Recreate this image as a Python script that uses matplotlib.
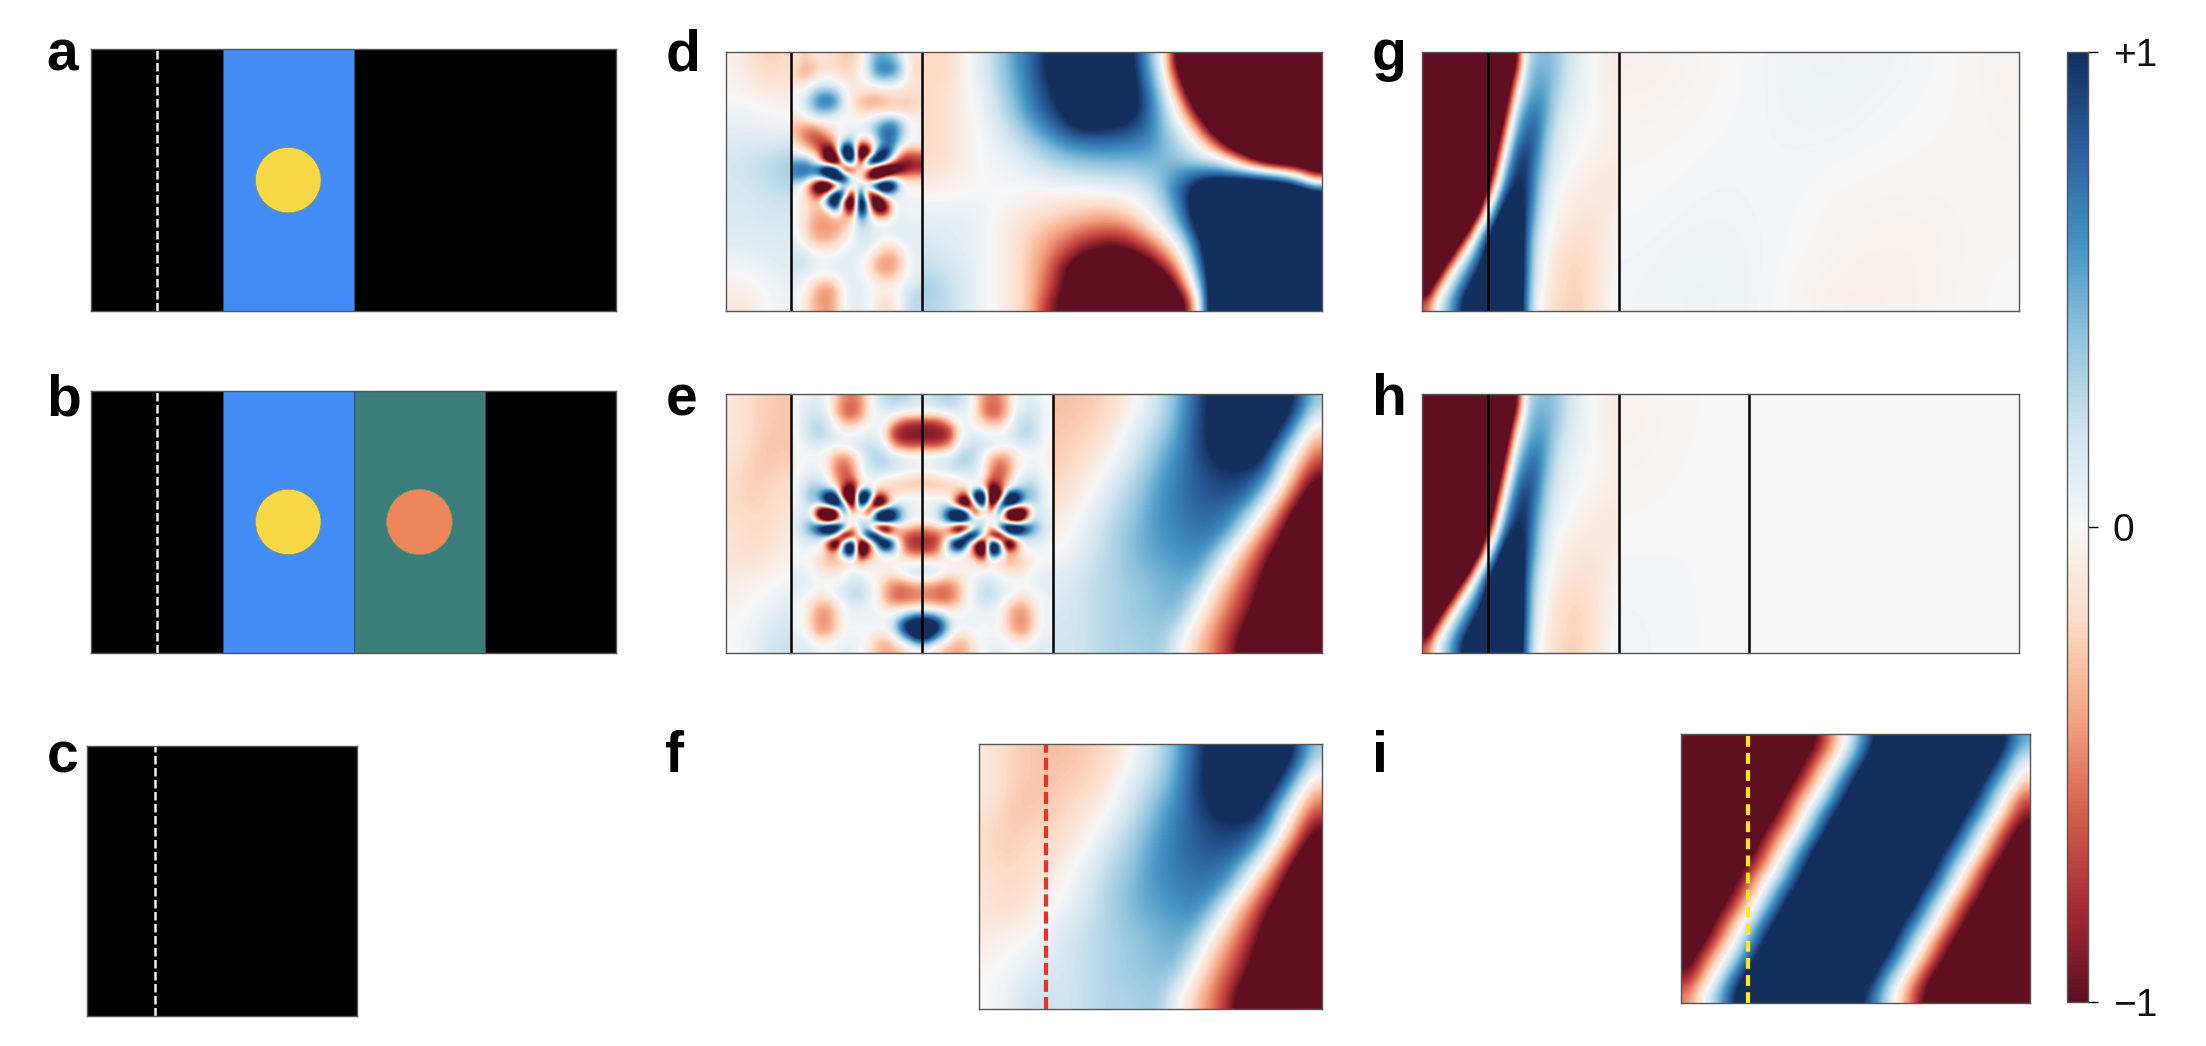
import numpy as np
import matplotlib
matplotlib.use('Agg')
import matplotlib.pyplot as plt
from matplotlib.cm import ScalarMappable
from matplotlib.colors import LinearSegmentedColormap, Normalize
from matplotlib.patches import Circle, Rectangle

plt.rcParams['font.family'] = ['Liberation Sans', 'DejaVu Sans']

# field values, +1 is blue and -1 is red
d_left = [
    [-.05, -.15, -.25, -.2],
    [0, 0, -.03, -.05],
    [.1, .1, .08, .05],
    [.2, .25, .3, .4],
    [.15, .15, .2, .2],
    [.15, .15, .15, .15],
    [.05, .08, .1, .12],
    [-.1, -.1, 0, .05],
]

d_slab = [
    [-.1, -.25, -.2, -.1, -.15, -.2, -.25, -.25, -.1, .2, .5, .5, .4, .1, -.15, -.15],
    [-.15, -.3, -.3, -.2, -.2, -.2, -.25, -.2, -.1, .25, .6, .65, .6, .3, -.1, -.2],
    [-.2, -.35, -.3, -.15, -.1, -.15, -.2, -.2, -.05, .2, .6, .65, .6, .3, -.1, -.2],
    [-.15, -.25, -.1, 0, .05, 0, -.1, -.15, -.05, .05, .25, .3, .25, .1, -.1, -.15],
    [0, -.05, .1, .3, .3, .2, 0, -.1, -.1, -.1, -.1, -.05, -.05, -.1, -.15, -.15],
    [0, .1, .35, .6, .65, .5, .1, -.1, -.25, -.3, -.3, -.25, -.2, -.2, -.2, -.2],
    [0, .1, .4, .65, .7, .55, .15, -.1, -.3, -.35, -.35, -.3, -.25, -.25, -.25, -.2],
    [-.05, .05, .2, .35, .35, .2, .05, -.05, -.15, -.15, -.1, -.1, -.1, -.15, -.15, -.1],
    [-.2, -.2, -.1, 0, 0, 0, 0, 0, 0, .05, .25, .45, .5, .25, 0, -.05],
    [-.3, -.45, -.5, -.4, -.2, -.05, .05, .05, .1, .2, .5, .75, .75, .4, .05, -.05],
    [-.25, -.5, -.65, -.65, -.45, -.2, .1, .3, 0, -.1, .4, .8, .75, .35, .05, -.05],
    [-.1, -.3, -.5, -.8, -.9, -.4, .9, .7, -1, -.5, .2, .7, .7, .1, -.1, -.1],
    [.1, 0, -.2, -.45, -1.6, -1, 1.9, 1.9, -2.2, -1.5, .9, 1.5, .4, -.4, -.6, -.5],
    [.5, .55, .35, -.2, -1.3, -2.2, .3, 1.5, -1.6, 1.6, 2, .7, -.4, -.9, -.9, -.8],
    [.7, .8, .7, 1, 2.1, 1.4, -1.4, -1, .1, -.4, -2, -2.3, -1.8, -1.1, -.9, -.8],
    [.6, .6, .4, .3, 1, 2.2, 1.5, 0, 0, -1.2, -1.8, -.5, -.1, -.3, -.3, -.3],
    [.2, 0, -.7, -2, -2.3, -1.2, .3, .1, .1, .5, 1.8, 2.2, 1.4, .1, -.05, -.05],
    [.05, -.1, -.5, -1, -.2, 1.6, 1.1, -1.6, 1.6, -1.4, -.6, .6, .3, .05, 0, 0],
    [0, -.1, -.25, -.35, 1, 2, -.9, -2.2, 2.2, -.2, -2.2, -.9, .05, .1, .05, .05],
    [0, -.1, -.25, -.35, -.2, .7, -.5, -1.4, 1.8, .2, -1.3, -1.2, -.05, .05, .05, .05],
    [0, -.1, -.3, -.4, -.4, -.3, -.3, -.3, .7, .2, -.2, -.2, 0, .1, .05, .05],
    [0, -.1, -.35, -.45, -.45, -.4, -.3, -.1, .3, .2, .05, .05, .1, .1, .1, .1],
    [.05, -.1, -.3, -.4, -.4, -.35, -.2, 0, .2, .15, .1, .05, .1, .1, .1, .1],
    [.1, 0, -.2, -.3, -.3, -.2, -.05, .05, .15, .15, .05, -.05, -.05, .05, .1, .1],
    [.15, .1, 0, -.1, -.1, -.05, .05, .1, .1, .05, -.1, -.25, -.25, -.1, .05, .1],
    [.2, .2, .1, .05, .05, .05, .1, .1, .05, -.05, -.3, -.4, -.4, -.2, .05, .1],
    [.2, .2, .1, .05, .05, .1, .1, .1, .05, -.1, -.35, -.45, -.4, -.2, .05, .1],
    [.15, .1, .05, 0, 0, .05, .1, .1, .05, -.05, -.25, -.35, -.3, -.1, .05, .1],
    [.1, .05, -.1, -.25, -.3, -.15, .05, .1, .1, 0, -.1, -.1, -.1, 0, .1, .15],
    [.05, 0, -.2, -.4, -.45, -.3, 0, .1, .1, .05, -.05, -.05, -.05, .05, .2, .25],
    [.05, -.05, -.25, -.45, -.45, -.3, 0, .1, .1, .05, -.1, -.15, -.1, .05, .25, .3],
    [.05, -.05, -.25, -.4, -.45, -.3, 0, .1, .1, .05, -.1, -.2, -.1, .05, .25, .25],
]

d_right = [
    [-.2, -.2, -.05, .1, .3, .55, .75, 1, 1.4, 1.5, 1.5, 1.4, 1.1, .55, 0, -1.5, -2, -2, -2, -2, -2, -2, -2, -2],
    [-.2, -.2, -.05, .1, .3, .5, .75, 1, 1.3, 1.5, 1.5, 1.4, 1.15, .65, .1, -1.1, -2, -2, -2, -2, -2, -2, -2, -2],
    [-.2, -.15, -.05, .05, .25, .45, .7, .9, 1.2, 1.5, 1.5, 1.4, 1.2, .75, .25, -.6, -1.8, -2, -2, -2, -2, -2, -2, -2],
    [-.2, -.15, -.05, .05, .2, .4, .65, .85, 1.05, 1.35, 1.45, 1.35, 1.15, .8, .35, -.2, -1.2, -2, -2, -2, -2, -2, -2, -2],
    [-.2, -.15, -.05, 0, .15, .3, .5, .7, .9, 1.1, 1.1, 1.05, .95, .75, .4, .05, -.5, -1.6, -2, -2, -2, -2, -2, -2],
    [-.2, -.15, -.05, 0, .1, .2, .35, .5, .65, .75, .75, .75, .7, .65, .45, .25, -.05, -.6, -1.6, -2, -2, -2, -2, -2],
    [-.2, -.15, -.05, 0, .05, .1, .2, .3, .4, .45, .5, .5, .5, .5, .45, .35, .2, .05, -.25, -1, -1.7, -2, -2, -2],
    [-.15, -.1, -.05, 0, .03, .05, .1, .15, .2, .25, .25, .3, .3, .35, .45, .6, .7, .75, .65, .6, .45, .25, -.2, -1],
    [-.05, -.03, -.02, 0, 0, 0, 0, 0, 0, 0, .05, .05, .1, .2, .45, .8, 1.2, 1.6, 1.7, 1.7, 1.7, 1.6, 1.4, .9],
    [.05, .05, .05, .05, 0, -.05, -.08, -.12, -.15, -.18, -.2, -.18, -.08, .05, .3, .7, 1.3, 1.8, 2, 2, 2, 2, 2, 2],
    [.1, .1, .1, .05, -.03, -.1, -.18, -.24, -.3, -.38, -.45, -.45, -.35, -.1, .15, .55, 1.2, 1.8, 2, 2, 2, 2, 2, 2],
    [.15, .1, .1, .05, -.03, -.12, -.25, -.38, -.5, -.65, -.75, -.8, -.7, -.45, -.15, .25, .9, 1.6, 2, 2, 2, 2, 2, 2],
    [.2, .15, .1, .05, -.03, -.12, -.28, -.45, -.7, -.95, -1.15, -1.2, -1.1, -.85, -.5, -.05, .7, 1.5, 2, 2, 2, 2, 2, 2],
    [.25, .2, .15, .05, -.03, -.12, -.3, -.55, -.95, -1.4, -1.7, -1.8, -1.7, -1.35, -.95, -.35, .5, 1.5, 2, 2, 2, 2, 2, 2],
    [.35, .25, .15, .05, -.03, -.12, -.3, -.6, -1, -1.5, -1.9, -2, -2, -1.8, -1.5, -.7, .2, 1.5, 2, 2, 2, 2, 2, 2],
    [.3, .25, .15, .05, -.03, -.12, -.3, -.8, -1.1, -1.6, -2, -2, -2, -2, -2, -1.3, -.1, 1.6, 2, 2, 2, 2, 2, 2],
]

e_left = [
    [-.1, -.2, -.25, -.28],
    [-.1, -.2, -.25, -.28],
    [-.1, -.2, -.28, -.28],
    [-.14, -.24, -.28, -.25],
    [-.18, -.25, -.25, -.2],
    [-.18, -.25, -.2, -.18],
    [-.18, -.2, -.2, -.14],
    [-.14, -.2, -.18, -.1],
    [-.14, -.18, -.14, -.07],
    [-.1, -.1, -.07, -.02],
    [-.07, -.03, 0, .05],
    [-.03, 0, .05, .12],
    [0, .03, .12, .18],
    [0, .05, .18, .22],
]

# left of the two slabs in e, the right one is its mirror image
e_slab = [
    [-.05, .05, .1, .1, .05, -.25, -.5, -.55, -.45, -.1, .15, .25, .3, .3, .25, .2],
    [0, .1, .15, .1, .05, -.3, -.55, -.6, -.5, -.1, .1, .2, .25, .2, .15, .1],
    [0, .1, .2, .2, .1, -.25, -.55, -.6, -.45, -.1, .05, .05, .05, -.05, -.1, -.1],
    [0, .1, .25, .25, .15, -.05, -.3, -.35, -.2, -.05, .05, .05, -.3, -.6, -.75, -.75],
    [0, .1, .25, .3, .2, .05, -.05, -.05, 0, .05, .05, -.1, -.7, -.85, -.9, -.9],
    [-.05, .1, .2, .25, .2, .1, .05, .05, .1, .15, .1, -.05, -.65, -.85, -.9, -.9],
    [-.05, .05, .1, .1, .05, 0, .05, .1, .2, .25, .2, .1, -.3, -.5, -.6, -.55],
    [-.05, 0, 0, 0, -.1, -.3, -.35, -.2, .05, .25, .3, .25, .1, .05, 0, 0],
    [-.05, 0, .05, 0, -.1, -.45, -.55, -.4, 0, .2, .3, .3, .2, .15, .1, .05],
    [-.05, .05, .1, .05, -.1, -.5, -.65, -.5, 0, .15, .2, .2, .15, .1, .05, .05],
    [0, .1, .2, .15, .05, -.35, -.65, -.65, -.1, .05, .05, -.05, -.1, -.15, -.2, -.25],
    [0, .15, .35, .35, .15, -.15, -.8, -1.3, -.15, .05, -.1, -.2, -.25, -.25, -.25, -.25],
    [0, .2, .4, .5, 1.4, 1.3, -1.7, -2.2, 2, 1.6, -.9, -.5, -.1, -.05, -.05, -.05],
    [0, .15, .3, .35, 1.3, 2.2, .6, -2.2, 1.9, .2, -2.2, -1.3, .05, .15, .1, .05],
    [.05, .15, .1, -1.6, -2.3, -1.6, 1.4, -.7, 0, -1.4, .6, 1.7, 1.1, .4, .1, .05],
    [.05, .2, .3, -.8, -2, -1, -.1, 0, .3, .1, 1.5, 2.1, 1.2, .4, .1, .05],
    [.1, .3, .6, 1.4, 2.1, 2.1, 1, -.5, .3, .3, -1.6, -2, -.7, -.2, -.3, -.4],
    [.05, .2, .3, .4, .6, .1, -2, -1.1, .1, 1.6, 1.8, -.2, -.2, -.5, -.7, -.75],
    [0, .1, .1, .1, -.8, -2.2, .8, 2.1, -2.2, -1, .7, 2, .8, -.4, -.75, -.8],
    [0, .05, 0, 0, -.3, -.5, .9, 1.9, -2.1, -.7, -.1, .4, .3, -.2, -.6, -.65],
    [0, 0, -.05, -.2, -.3, -.35, -.2, -.05, -.5, -.2, -.1, -.1, -.1, -.1, -.1, -.1],
    [.05, .05, 0, -.15, -.2, -.2, -.1, 0, -.1, -.05, -.05, -.05, 0, .1, .1, .15],
    [.1, .1, .05, -.05, -.05, -.05, 0, .1, .1, 0, -.05, -.1, -.2, -.1, .1, .15],
    [.1, .1, .05, 0, 0, .05, .1, .2, .2, .1, -.05, -.3, -.45, -.5, -.4, -.35],
    [.1, .05, 0, -.05, 0, .05, .15, .25, .25, .1, -.05, -.35, -.55, -.6, -.55, -.5],
    [.05, 0, -.1, -.25, -.2, -.05, .1, .2, .2, .1, -.05, -.3, -.5, -.55, -.5, -.45],
    [.05, 0, -.2, -.4, -.4, -.2, 0, .1, .1, .05, 0, -.1, -.15, -.15, -.05, 0],
    [.05, 0, -.25, -.45, -.45, -.25, 0, .05, .05, .05, .05, 0, .05, .35, .6, .8],
    [.05, 0, -.25, -.45, -.45, -.25, 0, .05, 0, .05, .05, .05, .25, .8, 1.3, 1.5],
    [.05, .05, -.15, -.4, -.35, -.15, 0, 0, 0, 0, -.1, -.1, .1, .6, 1.1, 1.5],
    [.1, .1, 0, -.1, -.1, 0, .05, .05, .05, -.05, -.25, -.3, -.15, .1, .4, .8],
    [.1, .15, .1, .05, 0, .05, .1, .1, 0, -.1, -.3, -.4, -.35, -.25, -.1, 0],
]

e_right = [
    [-.3, -.28, -.25, -.18, -.08, .1, .25, .5, .8, 1.1, 1.4, 1.6, 1.6, 1.3, .9, .35],
    [-.28, -.26, -.22, -.15, 0, .15, .3, .55, .85, 1.1, 1.4, 1.6, 1.5, 1.1, .6, 0],
    [-.26, -.22, -.18, -.08, .1, .25, .4, .6, .85, 1.1, 1.3, 1.4, 1.2, .8, .15, -.35],
    [-.25, -.18, -.1, 0, .15, .3, .5, .65, .85, 1, 1.1, 1.15, 1, .35, -.15, -.65],
    [-.22, -.12, -.05, .1, .25, .4, .55, .7, .8, .9, .95, .9, .7, .1, -.45, -1],
    [-.18, -.08, .03, .2, .3, .45, .6, .7, .8, .85, .85, .75, .3, -.25, -.75, -1.4],
    [-.1, 0, .12, .25, .35, .5, .6, .7, .75, .75, .7, .35, -.1, -.6, -1.2, -2],
    [-.06, .05, .18, .3, .4, .5, .6, .65, .7, .7, .5, 0, -.45, -.9, -1.6, -2],
    [0, .1, .2, .3, .4, .5, .55, .6, .65, .5, .05, -.35, -.75, -1.2, -2, -2],
    [.1, .15, .25, .3, .4, .45, .5, .55, .55, .2, -.2, -.55, -.95, -1.6, -2, -2],
    [.12, .2, .25, .3, .35, .4, .45, .5, .35, -.1, -.4, -.75, -1.1, -2, -2, -2],
    [.15, .2, .25, .3, .35, .4, .45, .45, .1, -.25, -.55, -.85, -1.3, -2, -2, -2],
    [.18, .2, .25, .3, .35, .35, .4, .25, -.1, -.4, -.7, -1, -1.8, -2, -2, -2],
    [.2, .2, .25, .3, .3, .35, .35, .05, -.25, -.5, -.8, -1.3, -2, -2, -2, -2],
]

# g and h share the part up to the end of the first slab
g_near = [
    [-2, -2, -2, -2, -2, -2, -2, -2, -2, -1.2, .15, .4, .45, .4, .25, .15, .05, 0, -.05, -.1],
    [-2, -2, -2, -2, -2, -2, -2, -2, -1.8, -.7, .3, .5, .5, .4, .25, .12, .05, 0, -.05, -.1],
    [-2, -2, -2, -2, -2, -2, -2, -2, -1.5, -.2, .4, .55, .55, .35, .2, .1, .05, 0, -.05, -.08],
    [-2, -2, -2, -2, -2, -2, -2, -2, -1.1, .15, .55, .7, .55, .3, .15, .08, .03, 0, -.03, -.08],
    [-2, -2, -2, -2, -2, -2, -2, -1.8, -.6, .4, .7, .8, .5, .25, .1, .05, 0, 0, -.03, -.08],
    [-2, -2, -2, -2, -2, -2, -2, -1.4, -.2, .6, .85, .8, .4, .2, .08, .03, 0, -.02, -.05, -.08],
    [-2, -2, -2, -2, -2, -2, -2, -1, .2, .8, 1, .7, .35, .15, .05, 0, -.02, -.04, -.06, -.08],
    [-2, -2, -2, -2, -2, -2, -1.8, -.5, .5, .95, 1, .6, .3, .1, .02, -.02, -.05, -.08, -.1, -.1],
    [-2, -2, -2, -2, -2, -2, -1.2, 0, .8, 1.1, 1, .55, .2, .05, -.03, -.06, -.08, -.1, -.1, -.1],
    [-2, -2, -2, -2, -2, -1.9, -.3, .5, 1.2, 1.4, .95, .5, .15, 0, -.06, -.09, -.1, -.1, -.1, -.08],
    [-2, -2, -2, -2, -2, -.6, .3, 1, 1.5, 1.6, .9, .4, .1, -.04, -.08, -.12, -.14, -.12, -.1, -.06],
    [-2, -2, -2, -1.7, -.7, .25, .8, 1.5, 1.8, 1.6, .85, .3, .05, -.07, -.12, -.15, -.15, -.14, -.1, -.05],
    [-2, -2, -1.7, -.6, .15, .6, 1.1, 1.8, 2, 1.7, .8, .25, 0, -.1, -.17, -.2, -.18, -.14, -.08, -.03],
    [-2, -1.6, -.5, .15, .55, .9, 1.4, 2, 2, 1.7, .8, .2, -.02, -.14, -.2, -.22, -.2, -.14, -.08, -.02],
    [-1.6, -.5, .1, .5, .85, 1.3, 2, 2, 2, 1.7, .75, .15, -.05, -.15, -.2, -.22, -.2, -.14, -.08, 0],
    [-.6, .05, .4, .75, 1.2, 1.8, 2, 2, 2, 1.7, .7, .1, -.07, -.18, -.22, -.24, -.2, -.14, -.08, .03],
]

g_far = [
    [-.05, -.04, -.01, .02, .05, .05, .04, .02, -.01, -.04],
    [-.03, -.02, 0, .02, .04, .04, .02, 0, -.01, -.03],
    [-.01, 0, .02, .02, .02, .01, 0, -.01, -.02, -.02],
    [0, .02, .03, .02, .01, -.02, -.03, -.03, -.02, -.01],
    [.02, .04, .04, .03, 0, -.03, -.04, -.04, -.03, -.01],
    [.03, .05, .05, .03, -.03, -.05, -.05, -.04, -.02, 0],
]

h_far = [
    [-.04, -.01, 0, 0, 0, 0, 0, 0, 0],
    [-.02, 0, 0, 0, 0, 0, 0, 0, 0],
    [.01, .01, 0, 0, 0, 0, 0, 0, 0],
    [.03, .01, 0, 0, 0, 0, 0, 0, 0],
]

i_field = [
    [-.9, -1.5, -1.5, -1.5, -1.5, -1.5, -1.5, -1.5, -1.4, -.9, -.4, .1, .6, 1.1, 1.5, 1.5, 1.5, 1.5, 1.5, 1.5, 1.5, 1.4, .9, .5],
    [-1.5, -1.5, -1.5, -1.5, -1.5, -1.5, -1.5, -1.5, -1, -.5, -.1, .4, .9, 1.4, 1.5, 1.5, 1.5, 1.5, 1.5, 1.5, 1.5, 1.1, .6, .1],
    [-1.5, -1.5, -1.5, -1.5, -1.5, -1.5, -1.5, -1.2, -.7, -.2, .3, .8, 1.3, 1.5, 1.5, 1.5, 1.5, 1.5, 1.5, 1.5, 1.2, .7, .3, -.2],
    [-1.5, -1.5, -1.5, -1.5, -1.5, -1.5, -1.3, -.8, -.3, .1, .6, 1.1, 1.5, 1.5, 1.5, 1.5, 1.5, 1.5, 1.5, 1.4, .9, .4, -.1, -.6],
    [-1.5, -1.5, -1.5, -1.5, -1.5, -1.5, -1, -.5, 0, .5, 1, 1.4, 1.5, 1.5, 1.5, 1.5, 1.5, 1.5, 1.5, 1, .6, .1, -.4, -.9],
    [-1.5, -1.5, -1.5, -1.5, -1.5, -1.1, -.6, -.2, .3, .8, 1.3, 1.5, 1.5, 1.5, 1.5, 1.5, 1.5, 1.5, 1.2, .7, .2, -.3, -.8, -1.2],
    [-1.5, -1.5, -1.5, -1.5, -1.3, -.8, -.3, .2, .7, 1.2, 1.5, 1.5, 1.5, 1.5, 1.5, 1.5, 1.5, 1.3, .8, .4, -.1, -.6, -1.1, -1.5],
    [-1.5, -1.5, -1.5, -1.4, -.9, -.5, 0, .5, 1, 1.5, 1.5, 1.5, 1.5, 1.5, 1.5, 1.5, 1.5, 1, .5, 0, -.5, -1, -1.4, -1.5],
    [-1.5, -1.5, -1.5, -1.1, -.6, -.1, .4, .8, 1.3, 1.5, 1.5, 1.5, 1.5, 1.5, 1.5, 1.5, 1.1, .7, .2, -.3, -.8, -1.3, -1.5, -1.5],
    [-1.5, -1.5, -1.2, -.8, -.3, .2, .7, 1.2, 1.5, 1.5, 1.5, 1.5, 1.5, 1.5, 1.5, 1.3, .8, .3, -.2, -.7, -1.1, -1.5, -1.5, -1.5],
    [-1.5, -1.4, -.9, -.4, .1, .6, 1, 1.5, 1.5, 1.5, 1.5, 1.5, 1.5, 1.5, 1.4, .9, .5, 0, -.5, -1, -1.5, -1.5, -1.5, -1.5],
    [-1.5, -1.1, -.6, -.1, .4, .9, 1.4, 1.5, 1.5, 1.5, 1.5, 1.5, 1.5, 1.5, 1.1, .6, .1, -.4, -.9, -1.3, -1.5, -1.5, -1.5, -1.5],
    [-1.2, -.7, -.2, .2, .7, 1.2, 1.5, 1.5, 1.5, 1.5, 1.5, 1.5, 1.5, 1.2, .8, .3, -.2, -.7, -1.2, -1.5, -1.5, -1.5, -1.5, -1.5],
    [-.9, -.4, .1, .6, 1.1, 1.5, 1.5, 1.5, 1.5, 1.5, 1.5, 1.5, 1.4, .9, .4, -.1, -.6, -1.1, -1.5, -1.5, -1.5, -1.5, -1.5, -1.5],
    [-.5, 0, .4, .9, 1.4, 1.5, 1.5, 1.5, 1.5, 1.5, 1.5, 1.5, 1, .6, .1, -.4, -.9, -1.4, -1.5, -1.5, -1.5, -1.5, -1.5, -1.5],
]

cbar_ticks = [-1, 0, 1]
cbar_labels = ['\u22121', '0', '+1']
panel_letters = ['a', 'b', 'c', 'd', 'e', 'f', 'g', 'h', 'i']

cmap = LinearSegmentedColormap.from_list('field', [
    '#5f0f20', '#a82a33', '#d6604d', '#f4a582', '#fddbc7', '#f7f7f7',
    '#d1e5f0', '#92c5de', '#4393c3', '#2a5f9e', '#132f5e'])
norm = Normalize(-1, 1)

SCALE = 2206 / 1568


def add_axes(fig, x0, y0, x1, y1, xmax):
    """
    New axes from a box given in the coordinates of the 1568 wide picture.
    """
    ax = fig.add_axes([x0 * SCALE / 2206, 1 - y1 * SCALE / 1046,
                       (x1 - x0) * SCALE / 2206, (y1 - y0) * SCALE / 1046])
    ax.set_xlim(0, xmax)
    ax.set_ylim(2, 0)
    ax.set_xticks([])
    ax.set_yticks([])
    for spine in ax.spines.values():
        spine.set_linewidth(1.0)
        spine.set_color('#555555')
    return ax


def draw_field(ax, values, x0, x1):
    ax.imshow(np.array(values, dtype=float), cmap=cmap, norm=norm, aspect='auto',
              extent=(x0, x1, 2, 0), interpolation='bicubic',
              interpolation_stage='data')


def finish_field(ax, xmax, walls):
    ax.set_xlim(0, xmax)
    ax.set_ylim(2, 0)
    for x in walls:
        ax.axvline(x, color='black', lw=1.8)


def draw_schematic(ax, slabs, circles, xmax):
    ax.set_facecolor('black')
    for x0, color in slabs:
        ax.add_patch(Rectangle((x0, 0), 1, 2, facecolor=color, edgecolor='#30506a', lw=0.6))
    for x0, color in circles:
        ax.add_patch(Circle((x0, 1), 0.25, facecolor=color, edgecolor='#7d9a55', lw=0.5))
    ax.axvline(0.5, color='#f2f2f2', lw=1.8, dashes=(3.4, 1.4))
    ax.set_xlim(0, xmax)
    ax.set_ylim(2, 0)


def main():
    fig = plt.figure(figsize=(22.06, 10.46), dpi=100)

    ax_a = add_axes(fig, 65, 35, 438, 221, 4)
    draw_schematic(ax_a, [(1, '#448cf5')], [(1.5, '#f9d848')], 4)
    ax_b = add_axes(fig, 65, 278, 438, 464, 4)
    draw_schematic(ax_b, [(1, '#448cf5'), (2, '#3a7d7a')],
                   [(1.5, '#f9d848'), (2.5, '#ee865c')], 4)
    ax_c = add_axes(fig, 62, 530, 254, 722, 2)
    draw_schematic(ax_c, [], [], 2)

    ax_d = add_axes(fig, 516, 37, 940, 221, 4.56)
    draw_field(ax_d, d_left, 0, 0.5)
    draw_field(ax_d, d_slab, 0.5, 1.5)
    draw_field(ax_d, d_right, 1.5, 4.56)
    finish_field(ax_d, 4.56, [0.5, 1.5])

    ax_e = add_axes(fig, 516, 280, 940, 464, 4.56)
    draw_field(ax_e, e_left, 0, 0.5)
    draw_field(ax_e, e_slab, 0.5, 1.5)
    draw_field(ax_e, np.array(e_slab)[:, ::-1], 1.5, 2.5)
    draw_field(ax_e, e_right, 2.5, 4.56)
    finish_field(ax_e, 4.56, [0.5, 1.5, 2.5])

    # f is e with the slabs taken out
    ax_f = add_axes(fig, 696, 529, 940, 717, 2.56)
    draw_field(ax_f, np.hstack([e_left, e_right]), 0, 2.56)
    finish_field(ax_f, 2.56, [])
    ax_f.axvline(0.5, color='#e8312a', lw=3, dashes=(2.9, 1.2))

    ax_g = add_axes(fig, 1011, 37, 1435, 221, 4.56)
    draw_field(ax_g, g_near, 0, 1.5)
    draw_field(ax_g, g_far, 1.5, 4.56)
    finish_field(ax_g, 4.56, [0.5, 1.5])

    ax_h = add_axes(fig, 1011, 280, 1435, 464, 4.56)
    draw_field(ax_h, g_near, 0, 1.5)
    draw_field(ax_h, h_far, 1.5, 4.56)
    finish_field(ax_h, 4.56, [0.5, 1.5, 2.5])

    ax_i = add_axes(fig, 1195, 522, 1443, 713, 2.6)
    draw_field(ax_i, i_field, 0, 2.6)
    finish_field(ax_i, 2.6, [])
    ax_i.axvline(0.5, color='#ffe81f', lw=3, dashes=(2.6, 1.5))

    # colour bar
    cax = fig.add_axes([1469 * SCALE / 2206, 1 - 712 * SCALE / 1046,
                        15 * SCALE / 2206, 675 * SCALE / 1046])
    cbar = fig.colorbar(ScalarMappable(norm=norm, cmap=cmap), cax=cax, ticks=cbar_ticks)
    cbar.ax.set_yticklabels(cbar_labels, fontsize=28, color='#111111')
    cbar.ax.tick_params(length=7, width=1, pad=11)
    cbar.outline.set_linewidth(1.0)
    cbar.outline.set_edgecolor('#555555')

    # panel letters
    letter_x = [33, 33, 33, 473, 473, 473, 975, 975, 975]
    letter_y = [50, 295, 549, 50, 295, 549, 50, 295, 549]
    for letter, x, y in zip(panel_letters, letter_x, letter_y):
        fig.text(x * SCALE / 2206, 1 - y * SCALE / 1046, letter, fontsize=41,
                 fontweight='bold', ha='left', va='baseline')

    fig.savefig('out.png', dpi=100, facecolor='white')


if __name__ == "__main__":
    main()
